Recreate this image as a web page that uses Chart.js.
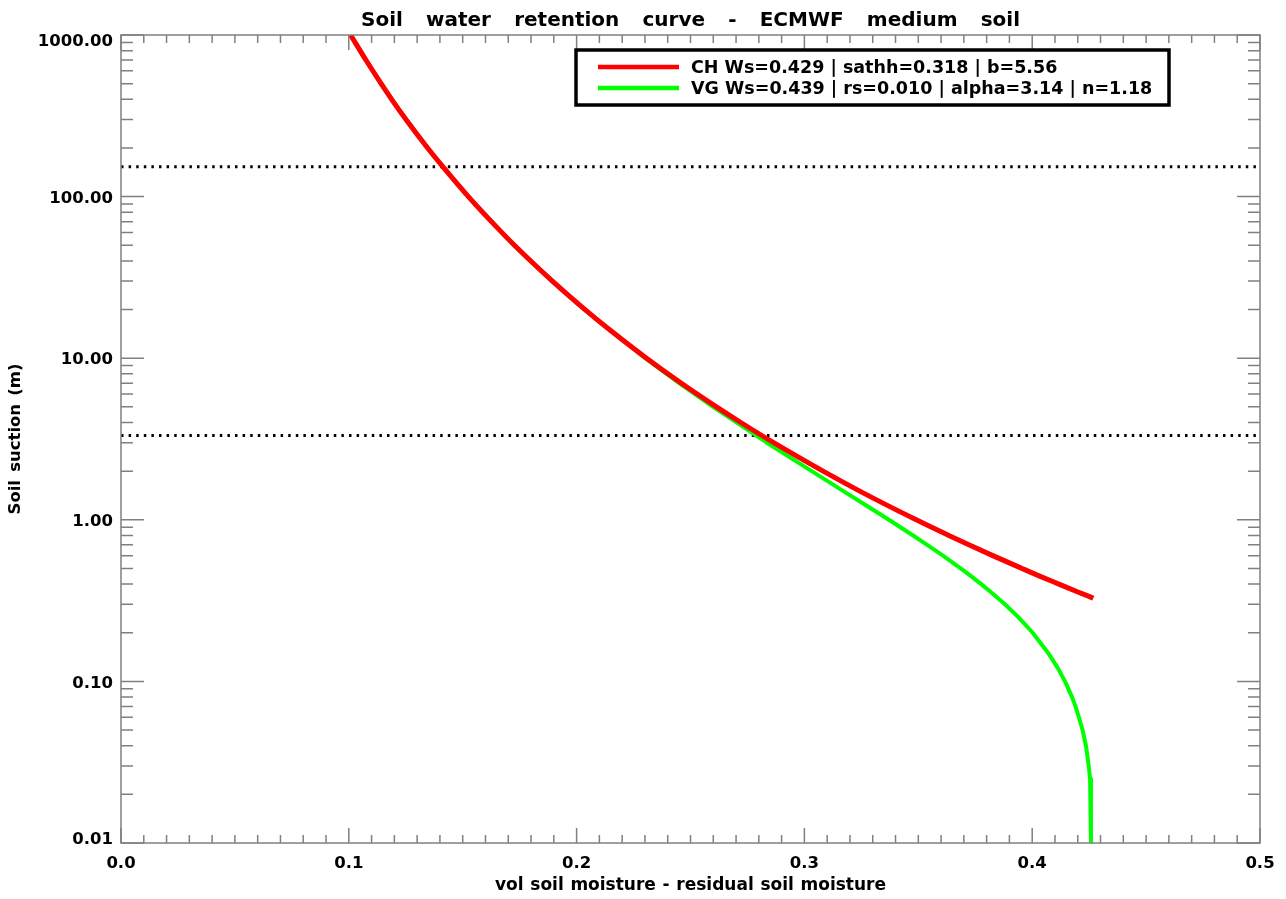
<!DOCTYPE html>
<html>
<head>
<meta charset="utf-8">
<title>Soil water retention curve - ECMWF medium soil</title>
<script src="https://cdn.jsdelivr.net/npm/chart.js@4/dist/chart.umd.min.js"></script>
<style>
  html, body { margin: 0; padding: 0; background: #ffffff; }
  #wrap { width: 1286px; height: 899px; position: relative; }
  canvas { display: block; }
</style>
</head>
<body>
<div id="wrap"><canvas id="chart" width="1286" height="899"></canvas></div>
<script>
// Clapp-Hornberger curve: soil moisture (x) against suction in metres (y)
const chMoisture = [0.1008, 0.1075, 0.1142, 0.1188, 0.1251, 0.1346, 0.1418, 0.1525, 0.1626, 0.1727,
                    0.1894, 0.2037, 0.2145, 0.2307, 0.2460, 0.2614, 0.2721, 0.2865, 0.3082, 0.3245,
                    0.3491, 0.3634, 0.3722, 0.3827, 0.3955, 0.4030, 0.4117, 0.4195, 0.4262, 0.4268];
const chSuction  = [1000, 700, 500, 400, 300, 200, 150, 100, 70, 50,
                    30, 20, 15, 10, 7, 5, 4, 3, 2, 1.5,
                    1, 0.8, 0.7, 0.6, 0.5, 0.45, 0.4, 0.36, 0.33, 0.327];

// Van Genuchten curve
const vgMoisture = [0.1007, 0.1141, 0.1251, 0.1345, 0.1524, 0.1726, 0.1891, 0.2034, 0.2301, 0.2450,
                    0.2599, 0.2835, 0.3032, 0.3173, 0.3282, 0.3371, 0.3477, 0.3539, 0.3608, 0.3686,
                    0.3730, 0.3776, 0.3826, 0.3880, 0.3939, 0.4002, 0.4070, 0.4114, 0.4144, 0.4175,
                    0.4190, 0.4205, 0.4221, 0.4236, 0.4248, 0.4254, 0.4258];
const vgSuction  = [1000, 500, 300, 200, 100, 50, 30, 20, 10, 7,
                    5, 3, 2, 1.5, 1.2, 1, 0.8, 0.7, 0.6, 0.5,
                    0.45, 0.4, 0.35, 0.3, 0.25, 0.2, 0.15, 0.12, 0.1, 0.08,
                    0.07, 0.06, 0.05, 0.04, 0.03, 0.025, 0.01];

// Horizontal reference levels (wilting point, field capacity), metres
const refLevels = [153, 3.32];

const seriesLabels = ['CH Ws=0.429 | sathh=0.318 | b=5.56',
                      'VG Ws=0.439 | rs=0.010 | alpha=3.14 | n=1.18'];

const xMajor = [0.0, 0.1, 0.2, 0.3, 0.4, 0.5];
const xTickLabels = ['0.0', '0.1', '0.2', '0.3', '0.4', '0.5'];
const yMajor = [0.01, 0.1, 1, 10, 100, 1000];
const yTickLabels = ['0.01', '0.10', '1.00', '10.00', '100.00', '1000.00'];

const titleText = 'Soil water retention curve - ECMWF medium soil';
const xTitleText = 'vol soil moisture - residual soil moisture';
const yTitleText = 'Soil suction (m)';

const toPoints = (xs, ys) => xs.map((x, i) => ({ x: x, y: ys[i] }));
const levelLine = v => [{ x: xMajor[0], y: v }, { x: xMajor[xMajor.length - 1], y: v }];

const FONT = '"DejaVu Sans", sans-serif';
const AXIS_COLOR = '#808080';

// Draws text with the gaps between words widened so that it spans `width`.
function spreadText(ctx, text, cx, y, width) {
  const words = text.split(' ');
  const widths = words.map(w => ctx.measureText(w).width);
  const total = widths.reduce((a, b) => a + b, 0);
  const gap = words.length > 1 ? (width - total) / (words.length - 1) : 0;
  let x = cx - width / 2;
  ctx.textAlign = 'left';
  words.forEach((w, i) => { ctx.fillText(w, x, y); x += widths[i] + gap; });
}

const idlFrame = {
  id: 'idlFrame',
  afterDraw(chart) {
    const ctx = chart.ctx;
    const xs = chart.scales.x, ys = chart.scales.y;
    const a = chart.chartArea;
    ctx.save();

    // frame
    ctx.strokeStyle = AXIS_COLOR;
    ctx.lineWidth = 1.5;
    ctx.strokeRect(a.left, a.top, a.right - a.left, a.bottom - a.top);

    // x ticks (bottom and top, pointing inward)
    const xMajLen = 15, xMinLen = 8;
    ctx.beginPath();
    for (let i = 0; i <= 50; i++) {
      const px = xs.getPixelForValue(i / 100);
      const len = (i % 10 === 0) ? xMajLen : xMinLen;
      ctx.moveTo(px, a.bottom); ctx.lineTo(px, a.bottom - len);
      ctx.moveTo(px, a.top); ctx.lineTo(px, a.top + len);
    }
    // y ticks (left and right, pointing inward), log minors
    const yMajLen = 23, yMinLen = 12;
    for (let d = -2; d <= 3; d++) {
      for (let k = 1; k <= 9; k++) {
        const v = k * Math.pow(10, d);
        if (v < ys.min * 0.999 || v > ys.max * 1.001) continue;
        const py = ys.getPixelForValue(v);
        const len = (k === 1) ? yMajLen : yMinLen;
        ctx.moveTo(a.left, py); ctx.lineTo(a.left + len, py);
        ctx.moveTo(a.right, py); ctx.lineTo(a.right - len, py);
      }
    }
    ctx.stroke();

    // tick labels
    ctx.fillStyle = '#000000';
    ctx.font = 'bold 16.5px ' + FONT;
    ctx.textBaseline = 'middle';
    ctx.textAlign = 'center';
    xMajor.forEach((v, i) => {
      ctx.fillText(xTickLabels[i], xs.getPixelForValue(v), 864);
    });
    ctx.textAlign = 'right';
    yMajor.forEach((v, i) => {
      const py = Math.min(Math.max(ys.getPixelForValue(v) + 2, 41.5), 840);
      ctx.fillText(yTickLabels[i], a.left - 8, py);
    });

    // titles
    ctx.textBaseline = 'alphabetic';
    ctx.font = 'bold 20px ' + FONT;
    spreadText(ctx, titleText, (a.left + a.right) / 2, 26, 659);

    ctx.font = 'bold 17px ' + FONT;
    spreadText(ctx, xTitleText, (a.left + a.right) / 2, 890, 391);

    ctx.font = 'bold 16.5px ' + FONT;
    ctx.save();
    ctx.translate(20, (a.top + a.bottom) / 2);
    ctx.rotate(-Math.PI / 2);
    spreadText(ctx, yTitleText, 0, 0, 151);
    ctx.restore();

    // legend box
    const bx = 576, by = 50, bw = 593, bh = 55;
    ctx.fillStyle = '#ffffff';
    ctx.fillRect(bx, by, bw, bh);
    ctx.strokeStyle = '#000000';
    ctx.lineWidth = 3.5;
    ctx.strokeRect(bx, by, bw, bh);
    const rowY = [67, 88];
    ctx.font = 'bold 17.5px ' + FONT;
    ctx.fillStyle = '#000000';
    ctx.textBaseline = 'middle';
    ctx.textAlign = 'left';
    [0, 1].forEach(i => {
      const ds = chart.data.datasets[i];
      ctx.strokeStyle = ds.borderColor;
      ctx.lineWidth = 4.5;
      ctx.beginPath();
      ctx.moveTo(598, rowY[i]); ctx.lineTo(679, rowY[i]);
      ctx.stroke();
      ctx.fillText(ds.label, 691, rowY[i] + 1);
    });

    ctx.restore();
  }
};

new Chart(document.getElementById('chart'), {
  type: 'scatter',
  data: {
    datasets: [
      { label: seriesLabels[0], data: toPoints(chMoisture, chSuction), showLine: true,
        borderColor: '#ff0000', borderWidth: 5, pointRadius: 0,
        cubicInterpolationMode: 'monotone' },
      { label: seriesLabels[1], data: toPoints(vgMoisture, vgSuction), showLine: true,
        borderColor: '#00ff00', borderWidth: 4, pointRadius: 0, tension: 0,
        borderJoinStyle: 'round' },
      { label: 'wilting point', data: levelLine(refLevels[0]), showLine: true,
        borderColor: '#000000', borderWidth: 3, borderDash: [2.5, 5.1], pointRadius: 0 },
      { label: 'field capacity', data: levelLine(refLevels[1]), showLine: true,
        borderColor: '#000000', borderWidth: 3, borderDash: [2.5, 5.1], pointRadius: 0 }
    ]
  },
  options: {
    responsive: false,
    animation: false,
    devicePixelRatio: 1,
    layout: { padding: { left: 121, right: 26, top: 35, bottom: 56 } },
    scales: {
      x: { type: 'linear', min: 0, max: 0.5, display: false },
      y: { type: 'logarithmic', min: 0.01, max: 1000, display: false }
    },
    plugins: {
      legend: { display: false },
      title: { display: false },
      tooltip: { enabled: false }
    }
  },
  plugins: [idlFrame]
});
</script>
</body>
</html>
